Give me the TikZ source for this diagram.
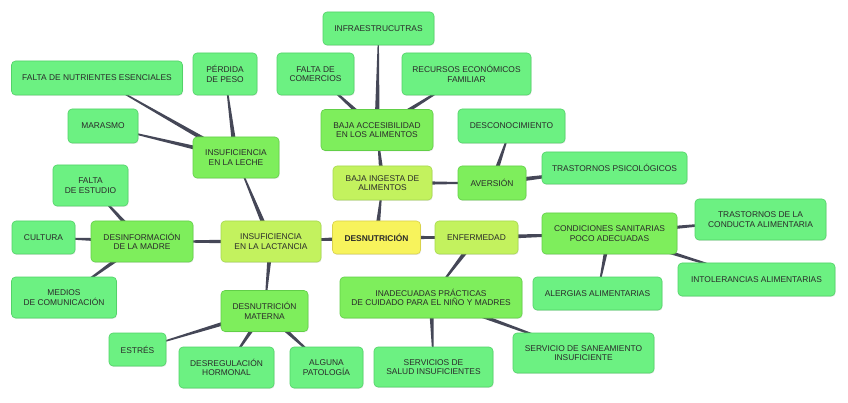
\documentclass[tikz,border=0pt]{standalone}
\usepackage{fontspec}
\setmainfont{Liberation Sans}
\usetikzlibrary{calc,shadows}

% colours of the map
\definecolor{coreyellow}{HTML}{F7F35C}
\definecolor{coreedge}{HTML}{D9D24A}
\definecolor{stemlime}{HTML}{C3F25E}
\definecolor{stemedge}{HTML}{A6D94E}
\definecolor{branchgreen}{HTML}{7EEE5C}
\definecolor{branchedge}{HTML}{62CF48}
\definecolor{leafgreen}{HTML}{6CF182}
\definecolor{leafedge}{HTML}{52D268}
\definecolor{wiregray}{HTML}{454757}
\definecolor{textgray}{HTML}{2A2A2A}

\pgfdeclarelayer{paper}
\pgfdeclarelayer{wires}
\pgfsetlayers{paper,wires,main}

\tikzset{
  box/.style={rounded corners=4pt, align=center, inner sep=0pt, line width=0.6pt,
    text=textgray, font=\fontsize{8.4}{9.4}\selectfont,
    drop shadow={opacity=0.18, shadow xshift=0.6pt, shadow yshift=-0.9pt}},
  core/.style={box, fill=coreyellow, draw=coreedge, font=\fontsize{8.4}{9.4}\selectfont\bfseries},
  stem/.style={box, fill=stemlime, draw=stemedge},
  branch/.style={box, fill=branchgreen, draw=branchedge},
  leaf/.style={box, fill=leafgreen, draw=leafedge},
  wire/.style={fill=wiregray}
}

\begin{document}
\begin{tikzpicture}[x=1pt,y=-1pt]
\begin{pgfonlayer}{paper}
\fill[white] (0,0) rectangle (848,403);
\end{pgfonlayer}
\useasboundingbox (0,0) rectangle (848,403);

% centre
\node[core, minimum width=88, minimum height=33] (desn) at (376.5,237.5) {DESNUTRICIÓN};

% first ring
\node[stem, minimum width=99, minimum height=34] (ingesta) at (382.5,183) {BAJA INGESTA DE\\ALIMENTOS};
\node[stem, minimum width=100, minimum height=41] (lactancia) at (271,241.5) {INSUFICIENCIA\\EN LA LACTANCIA};
\node[stem, minimum width=83, minimum height=33] (enferm) at (476.5,237.5) {ENFERMEDAD};

% second ring
\node[branch, minimum width=112, minimum height=41] (acceso) at (377,130) {BAJA ACCESIBILIDAD\\EN LOS ALIMENTOS};
\node[branch, minimum width=68, minimum height=34] (aversion) at (492,183) {AVERSIÓN};
\node[branch, minimum width=86, minimum height=41] (leche) at (236,157.5) {INSUFICIENCIA\\EN LA LECHE};
\node[branch, minimum width=102, minimum height=41] (desinfo) at (142,241.5) {DESINFORMACIÓN\\DE LA MADRE};
\node[branch, minimum width=87, minimum height=41] (materna) at (264.5,311) {DESNUTRICIÓN\\MATERNA};
\node[branch, minimum width=135, minimum height=41] (sanitar) at (609.5,233.5) {CONDICIONES SANITARIAS\\POCO ADECUADAS};
\node[branch, minimum width=182, minimum height=41] (practicas) at (431,297.5) {INADECUADAS PRÁCTICAS\\DE CUIDADO PARA EL NIÑO Y MADRES};

% leaves
\node[leaf, minimum width=111, minimum height=33] (infra) at (378.5,28.5) {INFRAESTRUCUTRAS};
\node[leaf, minimum width=77, minimum height=42] (comercios) at (315.5,74) {FALTA DE\\COMERCIOS};
\node[leaf, minimum width=129, minimum height=42] (recursos) at (466.5,74) {RECURSOS ECONÓMICOS\\FAMILIAR};
\node[leaf, minimum width=107, minimum height=34] (descon) at (511.5,126) {DESCONOCIMIENTO};
\node[leaf, minimum width=145, minimum height=32] (psico) at (614.5,168) {TRASTORNOS PSICOLÓGICOS};
\node[leaf, minimum width=131, minimum height=41] (conducta) at (760.5,219.5) {TRASTORNOS DE LA\\CONDUCTA ALIMENTARIA};
\node[leaf, minimum width=157, minimum height=33] (intoler) at (756.5,279.5) {INTOLERANCIAS ALIMENTARIAS};
\node[leaf, minimum width=129, minimum height=33] (alergias) at (597.5,293.5) {ALERGIAS ALIMENTARIAS};
\node[leaf, minimum width=119, minimum height=40] (salud) at (433.5,367) {SERVICIOS DE\\SALUD INSUFICIENTES};
\node[leaf, minimum width=141, minimum height=40] (saneam) at (583.5,353) {SERVICIO DE SANEAMIENTO\\INSUFICIENTE};
\node[leaf, minimum width=171, minimum height=34] (nutrientes) at (97,78) {FALTA DE NUTRIENTES ESENCIALES};
\node[leaf, minimum width=64, minimum height=42] (peso) at (225,74) {PÉRDIDA\\DE PESO};
\node[leaf, minimum width=70, minimum height=34] (marasmo) at (103,126) {MARASMO};
\node[leaf, minimum width=75, minimum height=41] (estudio) at (90.5,185.5) {FALTA\\DE ESTUDIO};
\node[leaf, minimum width=63, minimum height=33] (cultura) at (43.5,237.5) {CULTURA};
\node[leaf, minimum width=105, minimum height=41] (medios) at (64,297.5) {MEDIOS\\DE COMUNICACIÓN};
\node[leaf, minimum width=57, minimum height=33] (estres) at (137.5,349.5) {ESTRÉS};
\node[leaf, minimum width=95, minimum height=41] (hormonal) at (226.5,367.5) {DESREGULACIÓN\\HORMONAL};
\node[leaf, minimum width=73, minimum height=41] (patologia) at (326.5,367.5) {ALGUNA\\PATOLOGÍA};

% tapered connectors, wide at the parent
\begin{pgfonlayer}{wires}
\foreach \p/\c in {desn/ingesta, desn/lactancia, desn/enferm,
    ingesta/acceso, ingesta/aversion,
    acceso/infra, acceso/comercios, acceso/recursos,
    aversion/descon, aversion/psico,
    enferm/sanitar, enferm/practicas,
    sanitar/conducta, sanitar/intoler, sanitar/alergias,
    practicas/salud, practicas/saneam,
    lactancia/leche, lactancia/desinfo, lactancia/materna,
    leche/nutrientes, leche/peso, leche/marasmo,
    desinfo/estudio, desinfo/cultura, desinfo/medios,
    materna/estres, materna/hormonal, materna/patologia}
  \fill[wire] ($(\p.center)!2.6pt!90:(\c.center)$) -- ($(\p.center)!2.6pt!-90:(\c.center)$)
    -- ($(\c.center)!0.3pt!90:(\p.center)$) -- ($(\c.center)!0.3pt!-90:(\p.center)$) -- cycle;
\end{pgfonlayer}
\end{tikzpicture}
\end{document}
